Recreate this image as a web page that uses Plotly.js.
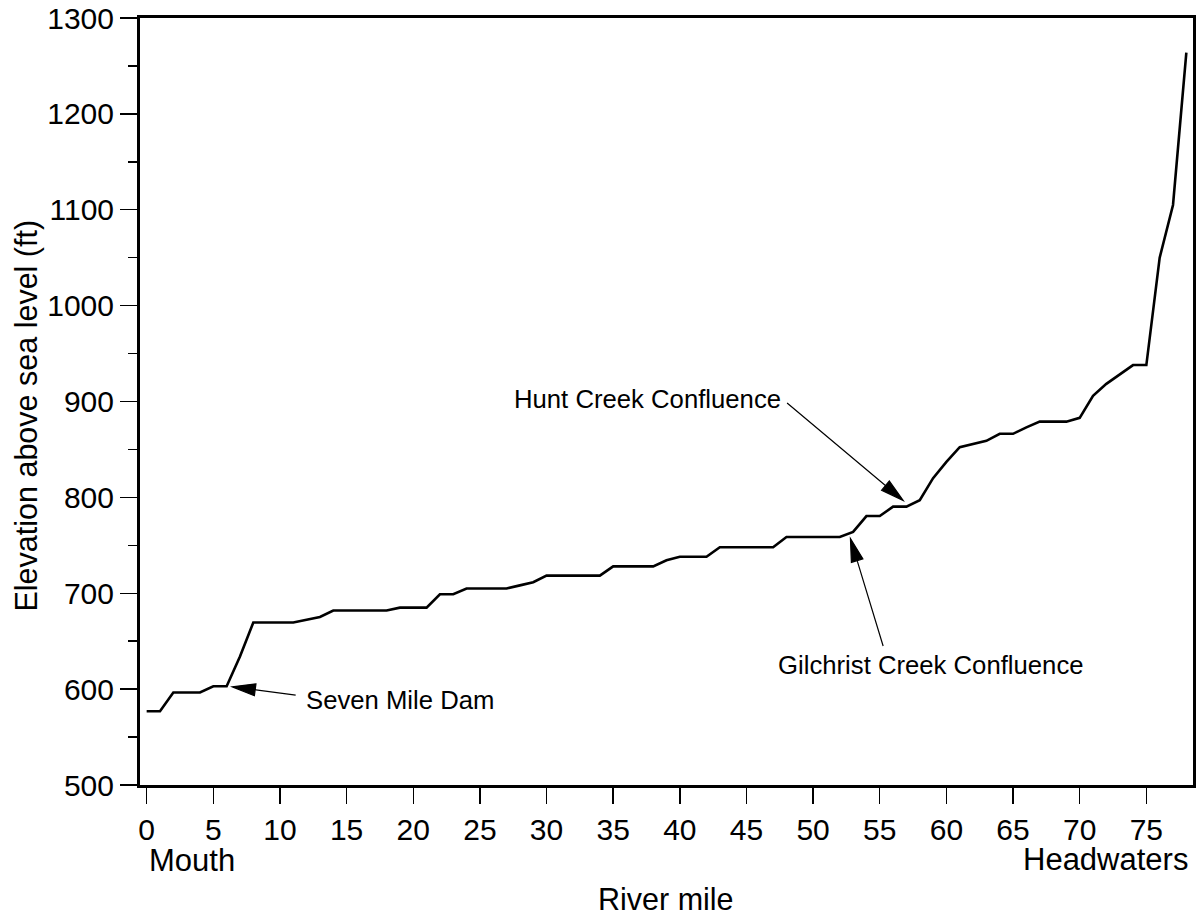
<!DOCTYPE html>
<html>
<head>
<meta charset="utf-8">
<script src="https://cdn.plot.ly/plotly-3.0.1.min.js"></script>
<style>
  html, body { margin: 0; padding: 0; background: #fff; }
  #chart { width: 1202px; height: 915px; }
</style>
</head>
<body>
<div id="chart"></div>
<script>
// River mile (x) and elevation above sea level in ft (y)
var riverMile = [0,1,2,3,4,5,6,7,8,9,10,11,12,13,14,15,16,17,18,19,20,21,22,23,24,25,26,27,28,29,30,31,32,33,34,35,36,37,38,39,40,41,42,43,44,45,46,47,48,49,50,51,52,53,54,55,56,57,58,59,60,61,62,63,64,65,66,67,68,69,70,71,72,73,74,75,76,77,78];
var elevation = [577,577,596.5,596.5,596.5,603,603,634,669.5,669.5,669.5,669.5,672.4,675.3,682,682,682,682,682,685,685,685,699,699,705,705,705,705,708.2,711.5,718.4,718.4,718.4,718.4,718.4,728,728,728,728,734.4,738,738,738,748,748,748,748,748,758.6,758.6,758.6,758.6,758.6,764,780.5,780.5,790.3,790.3,797,820,837,852.4,856,859,866.3,866.3,873,879,879,879,883,906,918.4,928,938,938,1050,1105,1264];

var xTickVals = [0,5,10,15,20,25,30,35,40,45,50,55,60,65,70,75];
var yTickVals = [500,600,700,800,900,1000,1100,1200,1300];

var labelNames = ["Seven Mile Dam", "Gilchrist Creek Confluence", "Hunt Creek Confluence"];

var FONT = '"Liberation Sans", Arial, Helvetica, sans-serif';

// arrow: tip anchored at a data point, tail given as screen-pixel offset
function arrowShape(tipX, tipY, dx, dy) {
  var len = Math.sqrt(dx*dx + dy*dy);
  var ux = dx/len, uy = dy/len;
  var L = 23, W = 6;
  var bx = ux*L, by = uy*L;
  var px = -uy*W, py = ux*W;
  function P(x, y) { return x.toFixed(2) + ',' + (-y).toFixed(2); }
  var path = 'M' + P(0,0) + ' L' + P(bx+px, by+py) + ' L' + P(bx-px, by-py) + ' Z' +
             ' M' + P(bx*0.8, by*0.8) + ' L' + P(dx, dy);
  return {
    type: 'path', xref: 'x', yref: 'y',
    xsizemode: 'pixel', ysizemode: 'pixel',
    xanchor: tipX, yanchor: tipY,
    path: path,
    line: {color: '#000', width: 1.2},
    fillcolor: '#000'
  };
}

var trace = {
  x: riverMile, y: elevation,
  type: 'scatter', mode: 'lines',
  line: {color: '#000', width: 2.6},
  hoverinfo: 'skip', showlegend: false
};

var annFont = {family: FONT, size: 25.7, color: '#000'};
var axFont = {family: FONT, size: 30, color: '#000'};

var layout = {
  width: 1202, height: 915,
  margin: {l: 140, r: 9, t: 18, b: 130, pad: 0},
  paper_bgcolor: '#fff', plot_bgcolor: '#fff',
  showlegend: false,
  font: {family: FONT, color: '#000'},
  xaxis: {
    range: [-0.5, 78.5],
    tickmode: 'array', tickvals: xTickVals,
    ticks: 'outside', ticklen: 16, tickwidth: 1.4, tickcolor: '#000',
    tickfont: axFont,
    showgrid: false, zeroline: false,
    showline: true, linecolor: '#000', linewidth: 3, mirror: true,
    fixedrange: true
  },
  yaxis: {
    range: [500, 1300],
    tickmode: 'array', tickvals: yTickVals,
    ticks: 'outside', ticklen: 17, tickwidth: 1.4, tickcolor: '#000',
    minor: {dtick: 50, ticks: 'outside', ticklen: 9, tickwidth: 1.4, tickcolor: '#000', showgrid: false},
    tickfont: axFont,
    showgrid: false, zeroline: false,
    showline: true, linecolor: '#000', linewidth: 3, mirror: true,
    fixedrange: true
  },
  shapes: [
    arrowShape(6.43, 602.4, 63.3, 8.3),
    arrowShape(52.8, 757, 32.7, 107.4),
    arrowShape(56.75, 796.9, -116, -97.3)
  ],
  annotations: [
    {text: labelNames[0], x: 11.78, y: 588.5, xref: 'x', yref: 'y', xanchor: 'left', yanchor: 'middle', showarrow: false, font: annFont},
    {text: labelNames[1], x: 47.18, y: 624.7, xref: 'x', yref: 'y', xanchor: 'left', yanchor: 'middle', showarrow: false, font: annFont},
    {text: labelNames[2], x: 27.43, y: 902.8, xref: 'x', yref: 'y', xanchor: 'left', yanchor: 'middle', showarrow: false, font: annFont},
    {text: 'Mouth', x: 0, y: 0, xref: 'x', yref: 'paper', xanchor: 'left', yanchor: 'middle', xshift: 0, yshift: -75, showarrow: false, font: {family: FONT, size: 31, color: '#000'}},
    {text: 'Headwaters', x: 1, y: 0, xref: 'paper', yref: 'paper', xanchor: 'right', yanchor: 'middle', xshift: -3, yshift: -74, showarrow: false, font: {family: FONT, size: 31, color: '#000'}},
    {text: 'River mile', x: 0.5, y: 0, xref: 'paper', yref: 'paper', xanchor: 'center', yanchor: 'middle', xshift: (666 - (140 + 1053/2)), yshift: -114, showarrow: false, font: {family: FONT, size: 30.5, color: '#000'}},
    {text: 'Elevation above sea level (ft)', x: 0, y: 0.5, xref: 'paper', yref: 'paper', xanchor: 'center', yanchor: 'middle', textangle: -90, xshift: -114, yshift: (401 - 415), showarrow: false, font: {family: FONT, size: 30.5, color: '#000'}}
  ]
};

Plotly.newPlot('chart', [trace], layout, {staticPlot: true, displayModeBar: false});
</script>
</body>
</html>
